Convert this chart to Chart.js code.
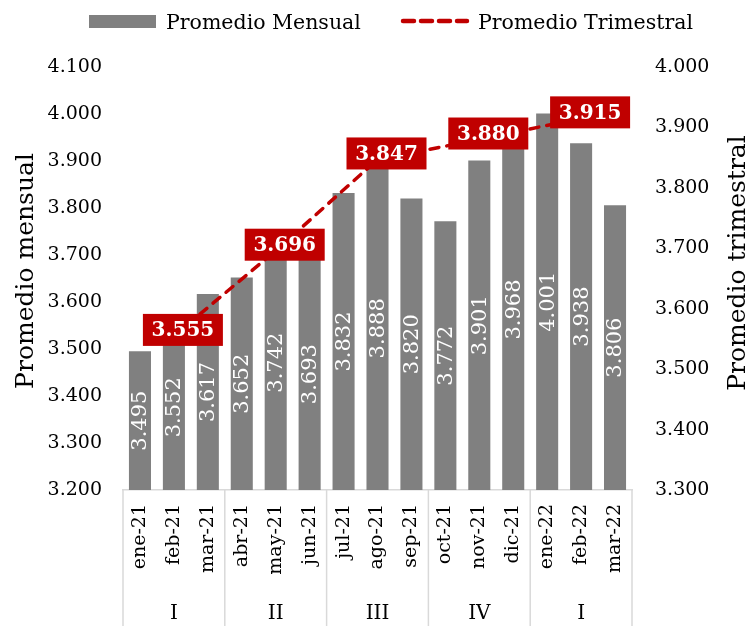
<!DOCTYPE html>
<html>
<head>
<meta charset="utf-8">
<script src="https://cdn.jsdelivr.net/npm/chart.js@4/dist/chart.umd.min.js"></script>
<style>
  body { margin: 0; background: #fff; }
  canvas { display: block; }
</style>
</head>
<body>
<canvas id="chart" width="748" height="626"></canvas>
<script>
// data
const months = ['ene-21', 'feb-21', 'mar-21', 'abr-21', 'may-21', 'jun-21', 'jul-21', 'ago-21', 'sep-21',
  'oct-21', 'nov-21', 'dic-21', 'ene-22', 'feb-22', 'mar-22'];
const monthly = [3.495, 3.552, 3.617, 3.652, 3.742, 3.693, 3.832, 3.888, 3.820,
  3.772, 3.901, 3.968, 4.001, 3.938, 3.806];
const quarters = ['I', 'II', 'III', 'IV', 'I'];
const quarterly = [3.555, 3.696, 3.847, 3.880, 3.915];

const SERIF = '"DejaVu Serif", serif';
const RED = '#C00000';
const GREY = '#808080';

function fmt(v) {
  return Number(v).toFixed(3);
}

// quarterly average sits on the middle month of each quarter
const quarterLine = months.map(() => null);
quarterly.forEach((v, q) => { quarterLine[q * 3 + 1] = v; });

// extra drawing: legend, axis titles, bar labels, quarter boxes, group axis
const extras = {
  id: 'extras',
  afterDatasetsDraw(chart) {
    const ctx = chart.ctx;
    const x = chart.scales.x;
    const y = chart.scales.y;
    const y2 = chart.scales.y2;

    // values inside the bars
    ctx.save();
    ctx.fillStyle = '#fff';
    ctx.font = '21px ' + SERIF;
    ctx.textAlign = 'center';
    ctx.textBaseline = 'middle';
    monthly.forEach((v, i) => {
      const cx = x.getPixelForValue(i);
      const cy = (y.getPixelForValue(v) + y.bottom) / 2;
      ctx.save();
      ctx.translate(cx, cy);
      ctx.rotate(-Math.PI / 2);
      ctx.fillText(fmt(v), 0, 1);
      ctx.restore();
    });
    ctx.restore();

    // red boxes for the quarterly values
    ctx.save();
    ctx.font = 'bold 20px ' + SERIF;
    ctx.textAlign = 'center';
    ctx.textBaseline = 'middle';
    quarterly.forEach((v, q) => {
      const cx = x.getPixelForValue(q * 3 + 1) + 9;
      const cy = y2.getPixelForValue(v) - 6;
      ctx.fillStyle = RED;
      ctx.fillRect(cx - 40, cy - 16, 80, 32);
      ctx.fillStyle = '#fff';
      ctx.fillText(fmt(v), cx, cy + 1);
    });
    ctx.restore();
  },
  afterDraw(chart) {
    const ctx = chart.ctx;
    const x = chart.scales.x;
    const area = chart.chartArea;
    const step = x.getPixelForValue(1) - x.getPixelForValue(0);

    // quarter separators and labels under the month labels
    ctx.save();
    ctx.strokeStyle = '#d9d9d9';
    ctx.lineWidth = 1.5;
    for (let q = 0; q <= quarters.length; q++) {
      const px = x.getPixelForValue(q * 3) - step / 2;
      ctx.beginPath();
      ctx.moveTo(px, area.bottom);
      ctx.lineTo(px, chart.height);
      ctx.stroke();
    }
    ctx.fillStyle = '#000';
    ctx.font = '20px ' + SERIF;
    ctx.textAlign = 'center';
    ctx.textBaseline = 'middle';
    quarters.forEach((lab, q) => {
      ctx.fillText(lab, x.getPixelForValue(q * 3 + 1), 614);
    });

    // axis titles
    ctx.font = '25px ' + SERIF;
    ctx.textBaseline = 'alphabetic';
    ctx.save();
    ctx.translate(33, 271);
    ctx.rotate(-Math.PI / 2);
    ctx.fillText('Promedio mensual', 0, 0);
    ctx.restore();
    ctx.save();
    ctx.translate(745, 263);
    ctx.rotate(-Math.PI / 2);
    ctx.fillText('Promedio trimestral', 0, 0);
    ctx.restore();

    // legend
    ctx.fillStyle = GREY;
    ctx.fillRect(89, 15, 67, 13);
    ctx.fillStyle = '#000';
    ctx.font = '20.5px ' + SERIF;
    ctx.textAlign = 'left';
    ctx.fillText('Promedio Mensual', 166, 29);
    ctx.strokeStyle = RED;
    ctx.lineWidth = 4.5;
    ctx.lineCap = 'round';
    ctx.setLineDash([11, 7]);
    ctx.beginPath();
    ctx.moveTo(403, 21);
    ctx.lineTo(467, 21);
    ctx.stroke();
    ctx.setLineDash([]);
    ctx.fillText('Promedio Trimestral', 478, 29);
    ctx.restore();
  }
};

const tickFont = { family: SERIF, size: 19 };

new Chart(document.getElementById('chart'), {
  data: {
    labels: months,
    datasets: [
      {
        type: 'line',
        label: 'Promedio Trimestral',
        data: quarterLine,
        yAxisID: 'y2',
        spanGaps: true,
        borderColor: RED,
        borderWidth: 3.5,
        borderDash: [9, 8],
        borderCapStyle: 'round',
        pointRadius: 0,
        order: 0
      },
      {
        type: 'bar',
        label: 'Promedio Mensual',
        data: monthly,
        yAxisID: 'y',
        backgroundColor: GREY,
        categoryPercentage: 1,
        barPercentage: 0.65,
        order: 1
      }
    ]
  },
  options: {
    responsive: false,
    animation: false,
    layout: { padding: { top: 67, left: 0, right: 0, bottom: 0 } },
    plugins: {
      legend: { display: false },
      tooltip: { enabled: false }
    },
    scales: {
      x: {
        grid: { display: false, drawTicks: false },
        border: { display: true, color: '#d9d9d9', width: 1.5 },
        ticks: { minRotation: 90, maxRotation: 90, autoSkip: false, padding: 14, color: '#000', font: tickFont },
        afterFit: s => { s.height = 136; }
      },
      y: {
        position: 'left',
        min: 3.2,
        max: 4.1,
        grid: { display: false, drawTicks: false },
        border: { display: false },
        ticks: { stepSize: 0.1, padding: 21, color: '#000', font: tickFont, callback: v => fmt(v) },
        afterFit: s => { s.width = 123; }
      },
      y2: {
        position: 'right',
        min: 3.3,
        max: 4.0,
        grid: { display: false, drawTicks: false },
        border: { display: false },
        ticks: { stepSize: 0.1, padding: 23, color: '#000', font: tickFont, callback: v => fmt(v) },
        afterFit: s => { s.width = 116; }
      }
    }
  },
  plugins: [extras]
});
</script>
</body>
</html>
